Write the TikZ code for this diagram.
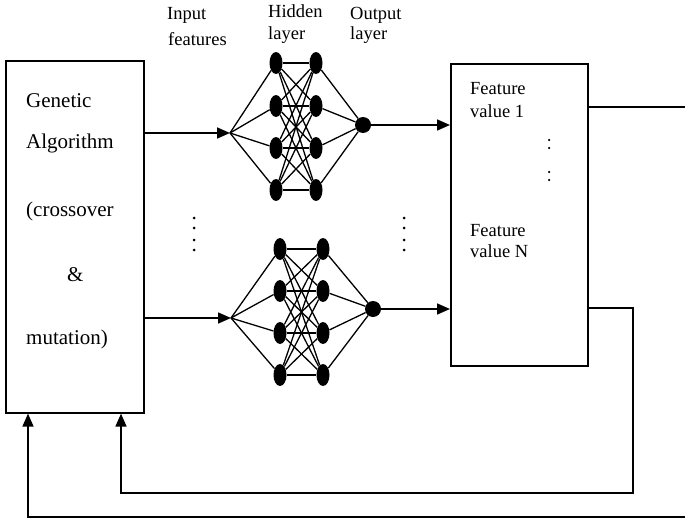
\documentclass[tikz,border=0pt]{standalone}
\usepackage{fontspec}
\setmainfont{Liberation Serif}
\usetikzlibrary{arrows.meta,shapes.geometric}
\begin{document}
\begin{tikzpicture}[x=1pt,y=-1pt,
  box/.style={draw,line width=1.6pt,inner sep=0pt,anchor=north west},
  neuron/.style={ellipse,fill=black,minimum width=13pt,minimum height=22pt,inner sep=0pt},
  outn/.style={circle,fill=black,minimum size=16pt,inner sep=0pt},
  syn/.style={line width=1.3pt},
  feed/.style={line width=1.6pt,-{Triangle[length=13pt,width=11pt]}},
  wire/.style={line width=1.4pt},
  lbl/.style={font=\fontsize{18.5}{20}\selectfont,anchor=base west,inner sep=0pt},
  galbl/.style={font=\fontsize{21}{24}\selectfont,anchor=base west,inner sep=0pt},
  dotn/.style={circle,fill=black,minimum size=3pt,inner sep=0pt}
]
\useasboundingbox (0,0) rectangle (685,519);

% main blocks
\node[box,minimum width=138pt,minimum height=352pt] (ga) at (5,60) {};
\node[box,minimum width=137pt,minimum height=302pt] (fv) at (450,63) {};

% genetic algorithm text
\node[galbl] (t1) at (26,107) {Genetic};
\node[galbl] (t2) at (26,148) {Algorithm};
\node[galbl] (t3) at (26,216) {(crossover};
\node[galbl] (t4) at (67,281) {\&};
\node[galbl] (t5) at (26,344) {mutation)};

% feature values text
\node[lbl] (f1) at (470,94) {Feature};
\node[lbl] (f2) at (470,117) {value 1};
\node[lbl] (f3) at (470,236) {Feature};
\node[lbl] (f4) at (470,257) {value N};
\foreach \y [count=\k] in {140,148,172,180}
  \node[dotn,minimum size=2.5pt] (fd\k) at (549,\y) {};

% layer captions
\node[lbl] (l1) at (167,20) {Input};
\node[lbl] (l2) at (168,46) {features};
\node[lbl] (l3) at (268,18) {Hidden};
\node[lbl] (l4) at (268,40) {layer};
\node[lbl] (l5) at (350,20) {Output};
\node[lbl] (l6) at (350,40) {layer};

% upper network
\coordinate (in1) at (230,133);
\foreach \y [count=\k] in {63,106,148,190} {
  \node[neuron] (a\k) at (276,\y) {};
  \node[neuron] (b\k) at (316,\y) {};
}
\node[outn] (o1) at (363,125) {};

% lower network
\coordinate (in2) at (231,318);
\foreach \y [count=\k] in {249,291,333,375} {
  \node[neuron] (c\k) at (280,\y) {};
  \node[neuron] (d\k) at (323,\y) {};
}
\node[outn] (o2) at (373,309) {};

\foreach \i in {1,...,4} {
  \draw[syn] (in1) -- (a\i);
  \draw[syn] (b\i) -- (o1);
  \draw[syn] (in2) -- (c\i);
  \draw[syn] (d\i) -- (o2);
  \foreach \j in {1,...,4} {
    \draw[syn] (a\i) -- (b\j);
    \draw[syn] (c\i) -- (d\j);
  }
}

% vertical ellipsis between the networks
\foreach \y [count=\k] in {218,228,240,250} {
  \node[dotn] (ld\k) at (194,\y) {};
  \node[dotn] (rd\k) at (404,\y) {};
}

% forward arrows
\draw[feed] (ga.east |- in1) -- (in1);
\draw[feed] (ga.east |- in2) -- (in2);
\draw[feed] (o1) -- (o1 -| fv.west);
\draw[feed] (o2) -- (o2 -| fv.west);

% outputs and feedback loops
\coordinate (r1) at (685,107);
\draw[wire] (fv.east |- r1) -- (r1);
\coordinate (fb1) at (633,308);
\coordinate (k1) at (633,493);
\coordinate (k2) at (121,493);
\draw[feed] (fv.east |- fb1) -- (fb1) -- (k1) -- (k2) -- (k2 |- ga.south);
\coordinate (m1) at (685,517);
\coordinate (m2) at (28,517);
\draw[feed] (m1) -- (m2) -- (m2 |- ga.south);
\end{tikzpicture}
\end{document}
